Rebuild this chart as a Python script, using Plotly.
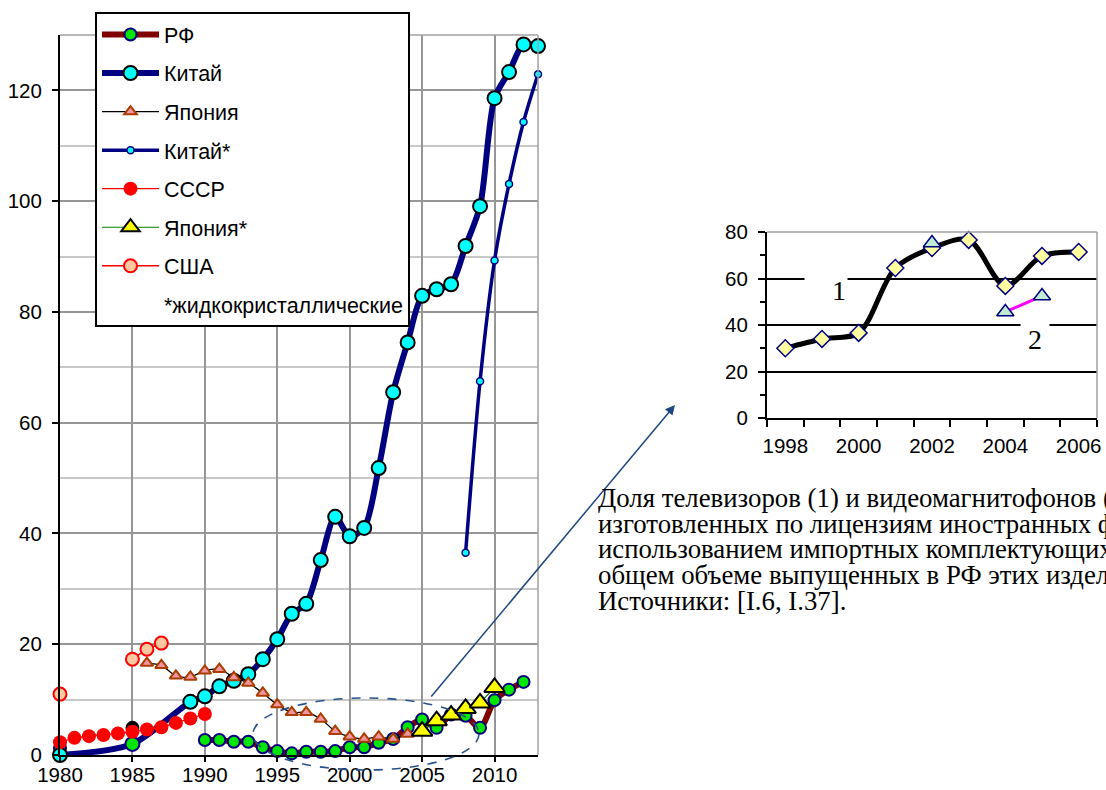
import plotly.graph_objects as go

# ---------------- main chart data ----------------
rf_years = [1980, None, 1985, None, 1985, None] + list(range(1990, 2013))
rf_values = [1.2, None, 4.9, None, 2.0, None,
             2.7, 2.7, 2.4, 2.4, 1.4, 0.7, 0.3, 0.6, 0.6, 0.7,
             1.4, 1.4, 2.2, 2.9, 5.0, 6.4, 4.9, 7.3, 7.1, 4.9,
             9.9, 11.8, 13.2]

china_years = [1980, 1985] + list(range(1989, 2014))
china_values = [0.0, 2.0, 9.6, 10.6, 12.4, 13.4, 14.6, 17.3, 20.9, 25.5, 27.3,
                35.2, 43.0, 39.5, 41.0, 51.8, 65.5, 74.5, 82.9, 84.1, 85.0,
                91.9, 99.1, 118.6, 123.3, 128.3, 128.0]

japan_years = list(range(1986, 2005))
japan_values = [16.6, 16.2, 14.3, 14.1, 15.2, 15.5, 14.0, 13.0, 11.2, 9.1,
                7.7, 7.7, 6.5, 4.3, 3.3, 2.9, 3.3, 2.9, 3.8]

china_lcd_years = list(range(2008, 2014))
china_lcd_values = [36.5, 67.5, 89.3, 103.1, 114.3, 122.9]

ussr_years = list(range(1980, 1991))
ussr_values = [2.3, 3.1, 3.4, 3.6, 3.9, 4.2, 4.6, 5.0, 5.8, 6.6, 7.4]

japan_lcd_years = list(range(2005, 2011))
japan_lcd_values = [4.3, 6.2, 7.2, 8.4, 9.4, 12.2]

usa_years = [1980, None, 1985, 1986, 1987]
usa_values = [11.0, None, 17.3, 19.1, 20.2]

main_xticks = [1980, 1985, 1990, 1995, 2000, 2005, 2010]
main_yticks = [0, 20, 40, 60, 80, 100, 120]

legend_names = ["РФ", "Китай", "Япония", "Китай*", "СССР", "Япония*", "США",
                "*жидкокристаллические"]

# ---------------- inset data ----------------
inset_years = list(range(1998, 2007))
tv_share = [30.0, 34.0, 36.6, 64.5, 73.1, 76.6, 56.8, 69.7, 71.4]
vcr_years = [2002, None, 2004, 2005]
vcr_share = [75.3, None, 45.6, 52.5]
inset_xticks = [1998, 2000, 2002, 2004, 2006]
inset_yticks = [0, 20, 40, 60, 80]

caption_lines = [
    "Доля телевизоров (1) и видеомагнитофонов (2),",
    "изготовленных по лицензиям иностранных фирм и с",
    "использованием импортных комплектующих, в",
    "общем объеме выпущенных в РФ этих изделий, %.",
    "Источники: [I.6, I.37].",
]

SANS = "Arial, 'Liberation Sans', sans-serif"
SERIF = "'Times New Roman', 'Liberation Serif', serif"
NAVY = "rgb(0,0,128)"

W, H = 1106, 790

fig = go.Figure()

# per-point marker styles for RF (black hidden point at 1985)
rf_mc = ["black" if (x == 1985 and v is not None and v > 4) else "rgb(0,230,0)"
         for x, v in zip(rf_years, rf_values)]
rf_lc = ["black" if c == "black" else NAVY for c in rf_mc]

china_mc = ["rgb(0,230,0)" if x == 1985 else "rgb(0,255,255)" for x in china_years]
china_lc = [NAVY if x == 1985 else "black" for x in china_years]

common = dict(mode="lines+markers", cliponaxis=False, xaxis="x", yaxis="y")

fig.add_trace(go.Scatter(x=rf_years, y=rf_values, name=legend_names[0], legendgroup="a",
                         line=dict(color="rgb(128,0,0)", width=6, shape="spline", smoothing=0.8),
                         marker=dict(size=12, color=rf_mc, line=dict(color=rf_lc, width=2)),
                         connectgaps=False, **common))
fig.add_trace(go.Scatter(x=china_years, y=china_values, name=legend_names[1], legendgroup="b",
                         line=dict(color=NAVY, width=6, shape="spline", smoothing=0.8),
                         marker=dict(size=14, color=china_mc, line=dict(color=china_lc, width=2)),
                         **common))
fig.add_trace(go.Scatter(x=japan_years, y=japan_values, name=legend_names[2], legendgroup="c",
                         line=dict(color="black", width=1.3, shape="spline", smoothing=0.8),
                         marker=dict(symbol="triangle-up", size=11, color="rgb(240,150,160)",
                                     line=dict(color="rgb(170,60,0)", width=2)),
                         **common))
fig.add_trace(go.Scatter(x=china_lcd_years, y=china_lcd_values, name=legend_names[3], legendgroup="d",
                         line=dict(color=NAVY, width=3.5, shape="spline", smoothing=0.8),
                         marker=dict(size=7, color="rgb(0,255,255)", line=dict(color=NAVY, width=1.5)),
                         **common))
fig.add_trace(go.Scatter(x=ussr_years, y=ussr_values, name=legend_names[4], legendgroup="e",
                         line=dict(color="red", width=1.2),
                         marker=dict(size=14, color="red", line=dict(color="red", width=0)),
                         **common))
fig.add_trace(go.Scatter(x=japan_lcd_years, y=japan_lcd_values, name=legend_names[5], legendgroup="f",
                         line=dict(color="rgb(0,128,0)", width=1.2),
                         marker=dict(symbol="triangle-up", size=18, color="rgb(255,255,0)",
                                     line=dict(color="black", width=2)),
                         **common))
fig.add_trace(go.Scatter(x=usa_years, y=usa_values, name=legend_names[6], legendgroup="g",
                         line=dict(color="red", width=1.5),
                         marker=dict(size=13, color="rgb(255,200,160)", line=dict(color="red", width=2)),
                         connectgaps=False, **common))
fig.add_trace(go.Scatter(x=[None], y=[None], name=legend_names[7], legendgroup="h",
                         mode="lines", line=dict(color="rgba(0,0,0,0)", width=0),
                         xaxis="x", yaxis="y"))

# ---------------- inset ----------------
fig.add_trace(go.Scatter(x=inset_years, y=tv_share, mode="lines+markers", showlegend=False,
                         line=dict(color="black", width=5, shape="spline", smoothing=0.9),
                         marker=dict(symbol="diamond", size=13, color="rgb(255,255,160)",
                                     line=dict(color=NAVY, width=1.5)),
                         cliponaxis=False, xaxis="x2", yaxis="y2"))
fig.add_trace(go.Scatter(x=vcr_years, y=vcr_share, mode="lines+markers", showlegend=False,
                         line=dict(color="rgb(255,0,255)", width=3),
                         marker=dict(symbol="triangle-up", size=15, color="rgb(190,235,210)",
                                     line=dict(color=NAVY, width=1.5)),
                         connectgaps=False, cliponaxis=False, xaxis="x2", yaxis="y2"))

# ---------------- layout ----------------
mx0, mx1 = 60 / W, 538 / W
my0, my1 = 1 - 755 / H, 1 - 35 / H
ix0, ix1 = 767 / W, 1097 / W
iy0, iy1 = 1 - 418 / H, 1 - 232 / H

TICKFONT = dict(family=SANS, size=20.5, color="black")

fig.update_layout(
    width=W, height=H,
    margin=dict(l=0, r=0, t=0, b=0, autoexpand=False),
    paper_bgcolor="white", plot_bgcolor="white",
    font=dict(family=SANS, size=20.5, color="black"),
    xaxis=dict(domain=[mx0, mx1], range=[1980, 2013], tickvals=main_xticks, automargin=False,
               showgrid=True, gridcolor="rgb(150,150,150)", gridwidth=1.5,
               showline=True, linecolor="black", linewidth=2, zeroline=False,
               ticks="outside", ticklen=5, tickwidth=1.5, tickcolor="black",
               tickfont=TICKFONT, ticklabelstandoff=-5, anchor="y"),
    yaxis=dict(domain=[my0, my1], range=[0, 130], tickvals=main_yticks, automargin=False,
               showgrid=True, gridcolor="rgb(150,150,150)", gridwidth=1.5,
               minor=dict(dtick=10, tick0=0, showgrid=True, gridcolor="rgb(200,200,200)", gridwidth=1.5),
               showline=True, linecolor="black", linewidth=2, zeroline=False,
               ticks="outside", ticklen=6, tickwidth=1.5, tickcolor="black",
               tickfont=TICKFONT, ticklabelstandoff=6, anchor="x"),
    xaxis2=dict(domain=[ix0, ix1], range=[1997.5, 2006.5], tickvals=inset_xticks, automargin=False,
                showgrid=False, showline=True, linecolor="black", linewidth=2, zeroline=False,
                ticks="", minor=dict(ticks="outside", tick0=1997.5, dtick=1, ticklen=7,
                                     tickcolor="black", tickwidth=1.5, showgrid=False),
                tickfont=TICKFONT, ticklabelstandoff=8, anchor="y2"),
    yaxis2=dict(domain=[iy0, iy1], range=[0, 80], tickvals=inset_yticks, automargin=False,
                showgrid=True, gridcolor="black", gridwidth=1.5,
                showline=True, linecolor="black", linewidth=2, zeroline=False,
                ticks="outside", ticklen=7, tickwidth=1.5, tickcolor="black",
                minor=dict(ticks="outside", dtick=10, tick0=0, ticklen=5, tickcolor="black",
                           tickwidth=1.5, showgrid=False),
                tickfont=TICKFONT, ticklabelstandoff=6, anchor="x2"),
    legend=dict(x=95 / W, y=1 - 12 / H, xanchor="left", yanchor="top",
                bgcolor="white", bordercolor="black", borderwidth=2,
                font=dict(family=SANS, size=21.5, color="black"),
                itemwidth=57, tracegroupgap=7.6, traceorder="grouped",
                itemclick=False),
    showlegend=True,
)

# plot-area borders (top / right) in grey
for xr, yr in (("x domain", "y domain"), ("x2 domain", "y2 domain")):
    fig.add_shape(type="line", xref=xr, yref=yr, x0=0, x1=1, y0=1, y1=1,
                  line=dict(color="rgb(160,160,160)", width=1.5), layer="above")
    fig.add_shape(type="line", xref=xr, yref=yr, x0=1, x1=1, y0=0, y1=1,
                  line=dict(color="rgb(160,160,160)", width=1.5), layer="above")

# dashed ellipse around the 1993-2009 low-value region
fig.add_shape(type="circle", xref="paper", yref="paper",
              x0=253 / W, x1=479 / W, y0=1 - 770 / H, y1=1 - 698 / H,
              line=dict(color="rgb(40,80,140)", width=1.6, dash="dash"), layer="above")

# arrow pointing to the inset
fig.add_annotation(xref="paper", yref="paper", x=675 / W, y=1 - 405 / H,
                   ax=-245, ay=293, axref="pixel", ayref="pixel", text="",
                   showarrow=True, arrowhead=2, arrowsize=1.3, arrowwidth=1.5,
                   arrowcolor="rgb(30,70,130)")

# labels 1 and 2 on inset
fig.add_annotation(xref="x2", yref="y2", x=1999.1, y=55.0, text="1", showarrow=False,
                   font=dict(family=SERIF, size=28, color="black"), bgcolor="white",
                   width=40, align="right")
fig.add_annotation(xref="x2", yref="y2", x=2004.8, y=33.7, text="2", showarrow=False,
                   font=dict(family=SERIF, size=28, color="black"), bgcolor="white",
                   width=26, align="center")

# caption, one annotation per line (tight line spacing)
for i, line in enumerate(caption_lines):
    fig.add_annotation(xref="paper", yref="paper", x=596 / W, y=1 - (498 + 25.7 * i) / H,
                       xanchor="left", yanchor="middle", align="left", showarrow=False,
                       text=line, font=dict(family=SERIF, size=26.8, color="black"))

fig.write_html("out.html", config={"displayModeBar": False},
               post_script="document.body.style.margin='0';")
